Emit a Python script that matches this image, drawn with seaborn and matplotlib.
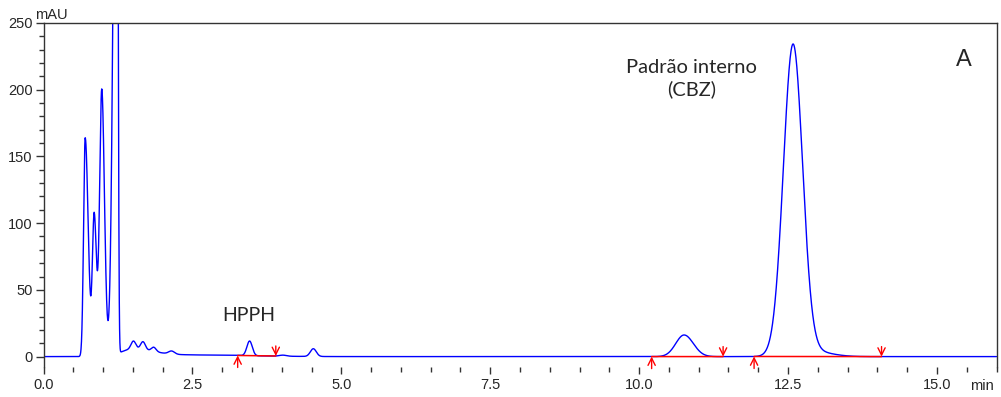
import numpy as np
import pandas as pd
import matplotlib
matplotlib.use("Agg")
import matplotlib.pyplot as plt
import seaborn as sns
from matplotlib.ticker import MultipleLocator, FormatStrFormatter

# ---- data (peak table) ----
peak_rt = [0.700, 0.851, 0.978, 1.235, 1.50, 1.51, 1.67, 1.85, 2.15, 2.50,
           3.46, 4.02, 4.53, 10.755, 12.584, 12.90]
peak_height = [164, 106, 200, 600, 5.5, 6.0, 6.0, 3.2, 2.3, 1.2,
               11.0, 0.8, 5.8, 16.2, 232, 4.0]
sigma_left = [0.027, 0.030, 0.036, 0.055, 0.20, 0.04, 0.04, 0.04, 0.05, 0.5,
              0.045, 0.06, 0.05, 0.14, 0.162, 0.30]
sigma_right = [0.050, 0.038, 0.045, 0.016, 0.35, 0.04, 0.04, 0.04, 0.05, 0.9,
               0.045, 0.06, 0.05, 0.155, 0.160, 0.30]

# integration marks (start / end of peak baselines), minutes
integ_start = [3.26, 10.21, 11.93]
integ_end = [3.90, 11.41, 14.07]

peak_labels = ["HPPH", "Padrão interno\n(CBZ)"]
panel_label = "A"

# ---- build the trace ----
t = np.linspace(0, 16, 6401)
sig = np.zeros_like(t)
for rt, h, sl, sr in zip(peak_rt, peak_height, sigma_left, sigma_right):
    s = np.where(t < rt, sl, sr)
    sig += h * np.exp(-0.5 * ((t - rt) / s) ** 2)
df = pd.DataFrame({"min": t, "mAU": sig})

# ---- figure ----
sns.set_style("ticks")
plt.rcParams["font.family"] = ["Liberation Sans", "DejaVu Sans"]

W, H = 1001, 397
fig = plt.figure(figsize=(W / 100, H / 100), dpi=100)
left, right, top, bottom = 43.5, 996.5, 23, 367
ax = fig.add_axes([left / W, (H - bottom) / H, (right - left) / W, (bottom - top) / H])

sns.lineplot(data=df, x="min", y="mAU", ax=ax, color="#0000ff", lw=1.0,
             estimator=None, sort=False, zorder=2)

# integration baselines and arrows
for s, e in zip(integ_start, integ_end):
    ys = np.interp(s, t, sig)
    ye = np.interp(e, t, sig)
    ax.plot([s, e], [ys, ye], color="#ff0000", lw=1.1, zorder=3)
    ax.annotate("", xy=(s, ys), xytext=(s, ys - 9),
                arrowprops=dict(arrowstyle="->", color="#ff0000", lw=1.0,
                                mutation_scale=13, shrinkA=0, shrinkB=0),
                zorder=4, annotation_clip=False)
    ax.annotate("", xy=(e, ye), xytext=(e, ye + 7.5),
                arrowprops=dict(arrowstyle="->", color="#ff0000", lw=1.0,
                                mutation_scale=13, shrinkA=0, shrinkB=0),
                zorder=4, annotation_clip=False)

ax.set_xlim(0, 16)
ax.set_ylim(-7.8, 250)
ax.set_xlabel("")
ax.set_ylabel("")

ax.xaxis.set_major_locator(MultipleLocator(2.5))
ax.xaxis.set_minor_locator(MultipleLocator(0.5))
ax.xaxis.set_major_formatter(FormatStrFormatter("%.1f"))
ax.yaxis.set_major_locator(MultipleLocator(50))
ax.yaxis.set_minor_locator(MultipleLocator(10))

for side in ["top", "left", "right"]:
    ax.spines[side].set_color("#333333")
    ax.spines[side].set_linewidth(1.0)
ax.spines["bottom"].set_visible(False)

ax.tick_params(axis="x", which="major", length=5, width=1, pad=3,
               labelsize=10.5, color="#333333", direction="out")
ax.tick_params(axis="x", which="minor", length=3.5, width=1,
               color="#333333", direction="out")
ax.tick_params(axis="y", which="major", length=6, width=1, pad=2,
               labelsize=10.5, color="#333333", direction="out")
ax.tick_params(axis="y", which="minor", length=3.5, width=1,
               color="#333333", direction="out")

fig.text(35 / W, 1 - 19 / H, "mAU", fontsize=10.5, va="baseline", ha="left")
fig.text(970 / W, 1 - 390 / H, "min", fontsize=10.5, va="baseline", ha="left")

ann_font = ["Lato", "DejaVu Sans"]
ax.text(3.45, 26.5, peak_labels[0], fontsize=14, family=ann_font,
        ha="center", va="baseline")
ax.text(10.88, 196, peak_labels[1], fontsize=14.5, family=ann_font,
        ha="center", va="baseline", linespacing=1.3)
ax.text(15.45, 218, panel_label, fontsize=17, ha="center", va="baseline")

fig.savefig("out.png", dpi=100)
